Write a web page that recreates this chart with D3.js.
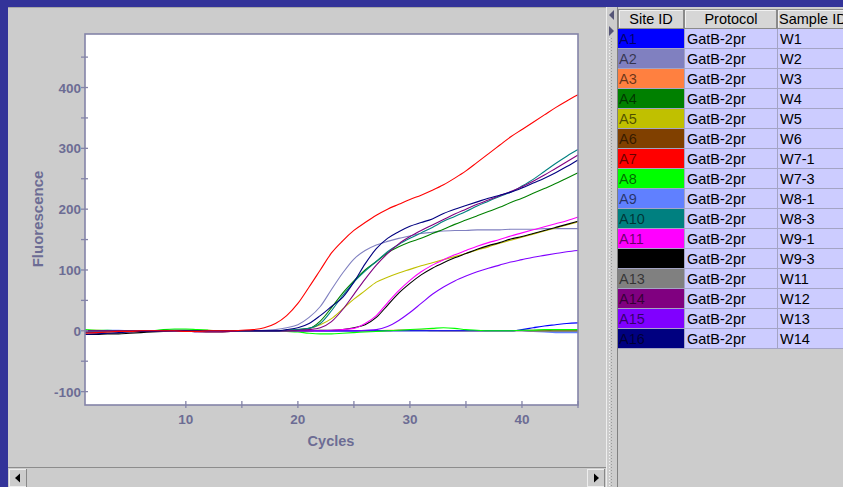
<!DOCTYPE html>
<html>
<head>
<meta charset="utf-8">
<script src="https://cdn.jsdelivr.net/npm/d3@7"></script>
<style>
  body { margin: 0; background: #333399; overflow: hidden; }
  svg { display: block; }
</style>
</head>
<body>
<script>
// cycle numbers (x values)
let cycles = [1,2,3,4,5,6,7,8,9,10,11,12,13,14,15,16,17,18,19,20,21,22,23,24,25,26,27,28,29,30,
  31,32,33,34,35,36,37,38,39,40,41,42,43,44,45];

// table columns
let siteIds = ["A1","A2","A3","A4","A5","A6","A7","A8","A9","A10","A11","A12","A13","A14","A15","A16"];
let protocols = ["GatB-2pr","GatB-2pr","GatB-2pr","GatB-2pr","GatB-2pr","GatB-2pr","GatB-2pr","GatB-2pr",
  "GatB-2pr","GatB-2pr","GatB-2pr","GatB-2pr","GatB-2pr","GatB-2pr","GatB-2pr","GatB-2pr"];
let sampleIds = ["W1","W2","W3","W4","W5","W6","W7-1","W7-3","W8-1","W8-3","W9-1","W9-3","W11","W12","W13","W14"];

// fluorescence per cycle, one array per well
let a1 = [-2,-2,-1,-1,0,0,0,0,0,0,0,0,0,0,-1,-1,-1,-1,-1,0,0,0,0,0,0,0,0,0,0,0,0,0,0,0,0,0,0,0,0,2,5,8,10,12,13];
let a2 = [0,0,0,0,0,0,0,0,-1,-1,0,0,0,0,0,0,1,2,5,10,22,40,68,95,118,132,141,147,152,156,
  160,162,164,165,165,166,166,166,167,167,167,168,168,168,168];
let a3 = [1,1,0,-1,-2,-1,0,0,0,0,1,1,0,0,0,0,0,0,0,0,0,0,0,0,0,0,0,1,1,1,1,1,0,0,0,0,0,0,0,0,0,0,0,0,0];
let a4 = [0,0,0,0,0,0,0,1,1,1,0,0,0,0,0,0,0,0,1,2,4,16,38,62,82,100,114,128,138,146,
  152,160,167,175,182,189,196,203,211,218,226,234,242,251,260];
let a5 = [0,0,0,0,0,0,0,0,0,0,0,0,0,0,0,0,0,0,0,1,4,10,20,36,52,66,80,88,95,101,
  107,112,117,122,127,133,138,144,149,154,159,164,169,174,179];
let a6 = [-3,-3,-2,-1,0,0,0,0,0,-1,-1,-2,-2,-1,0,0,0,0,0,0,0,0,0,0,0,0,0,0,1,1,1,0,0,0,0,0,0,0,0,1,1,1,0,0,0];
let a7 = [-4,-3,-2,-1,-1,0,0,0,0,-1,-1,0,0,0,1,2,5,12,25,45,72,100,128,148,165,178,190,200,208,216,
  223,231,240,251,263,277,291,305,319,331,343,355,367,378,388];
let a8 = [2,1,1,0,0,0,0,2,3,3,2,1,0,0,0,0,0,0,-1,-2,-4,-5,-5,-4,-3,-2,-1,0,1,2,3,4,5,4,2,1,0,0,0,1,1,2,2,2,2];
let a9 = [0,0,1,1,0,0,0,0,1,1,1,0,0,0,0,0,0,0,0,0,0,-1,-1,-1,-1,0,0,0,0,0,0,0,0,0,0,0,0,0,0,0,-1,-2,-3,-3,-3];
let a10 = [0,0,0,0,0,0,0,0,0,0,0,0,0,0,0,0,0,0,1,2,4,12,33,58,80,98,114,130,142,152,
  161,170,180,188,196,205,213,221,228,238,249,262,275,287,298];
let a11 = [0,0,0,0,0,0,0,0,0,0,-1,-1,-1,0,0,0,0,0,0,0,0,0,1,2,4,12,25,46,66,83,
  97,108,117,125,132,139,145,150,156,161,166,171,176,181,187];
let a12 = [-6,-6,-5,-5,-4,-3,-2,-1,0,0,0,0,0,0,0,0,0,0,0,0,0,1,1,2,5,10,22,42,62,78,
  92,103,112,120,127,134,140,145,151,155,160,165,170,175,180];
let a13 = [-1,-1,0,0,0,0,0,0,0,0,0,0,0,0,0,0,0,0,0,0,0,0,0,0,0,0,0,0,0,0,0,0,0,0,0,0,0,0,0,0,-1,-1,-1,-1,-1];
let a14 = [0,0,0,0,0,0,0,0,0,0,-2,-2,-2,-1,0,0,0,0,0,1,2,5,15,35,60,85,108,127,143,155,
  165,174,183,192,200,208,215,222,229,237,246,256,267,278,289];
let a15 = [0,0,0,0,0,0,0,0,0,0,0,0,0,0,0,0,0,0,0,0,0,0,0,0,0,1,2,7,17,30,
  45,60,72,82,90,97,103,108,113,117,121,124,127,130,132];
let a16 = [-6,-5,-4,-3,-2,-1,-1,0,0,0,0,0,0,0,0,0,0,0,2,5,12,25,40,55,80,110,135,152,163,172,
  178,184,193,200,206,212,218,223,228,235,243,251,260,270,281];

let wells = [a1,a2,a3,a4,a5,a6,a7,a8,a9,a10,a11,a12,a13,a14,a15,a16];

// well colours
let siteColors = ["#0000ff","#8080c0","#ff8040","#008000","#c0c000","#804000","#ff0000","#00ff00",
  "#6080ff","#008080","#ff00ff","#000000","#808080","#800080","#8000ff","#000080"];

let yTicks = [-100,-50,0,50,100,150,200,250,300,350,400,450];
let xTicks = [10,15,20,25,30,35,40,45];

window.onload = function() {
  let svg = d3.select("body").append("svg")
    .attr("width", 843)
    .attr("height", 487);

  drawFrame(svg);
  drawChart(svg);
  drawTable(svg);
};

function drawFrame(svg) {
  // left (chart) panel
  svg.append("rect").attr("x", 8).attr("y", 7).attr("width", 598).attr("height", 480).attr("fill", "#cccccc");
  svg.append("line").attr("x1", 8).attr("x2", 606).attr("y1", 7.5).attr("y2", 7.5).attr("stroke", "#a8a8a8");

  // horizontal scrollbar
  svg.append("rect").attr("x", 8).attr("y", 467).attr("width", 598).attr("height", 20).attr("fill", "#cccccc");
  svg.append("line").attr("x1", 8).attr("x2", 606).attr("y1", 467.5).attr("y2", 467.5).attr("stroke", "#8c8c8c");
  [[9, 27], [587, 605]].forEach(function(b) {
    svg.append("rect").attr("x", b[0] + 0.5).attr("y", 469.5).attr("width", b[1] - b[0] - 1).attr("height", 17)
      .attr("fill", "#cccccc").attr("stroke", "#eeeeee");
    svg.append("line").attr("x1", b[1] - 0.5).attr("x2", b[1] - 0.5).attr("y1", 469).attr("y2", 487).attr("stroke", "#888");
  });
  svg.append("path").attr("d", "M15,478 L20,473.5 L20,482.5 Z").attr("fill", "#000");
  svg.append("path").attr("d", "M599,478 L594,473.5 L594,482.5 Z").attr("fill", "#000");

  // splitter
  svg.append("rect").attr("x", 606).attr("y", 7).attr("width", 11).attr("height", 480).attr("fill", "#cccccc");
  svg.append("line").attr("x1", 606.5).attr("x2", 606.5).attr("y1", 7).attr("y2", 487).attr("stroke", "#eeeeee");
  svg.append("line").attr("x1", 611.5).attr("x2", 611.5).attr("y1", 38).attr("y2", 487)
    .attr("stroke", "#9a9a9a").attr("stroke-dasharray", "1,2");
  svg.append("line").attr("x1", 609.5).attr("x2", 609.5).attr("y1", 38).attr("y2", 487)
    .attr("stroke", "#f4f4f4").attr("stroke-dasharray", "1,2");
  svg.append("path").attr("d", "M609,15 L614,10 L614,20 Z").attr("fill", "#555577");
  svg.append("path").attr("d", "M614,31 L609,26 L609,36 Z").attr("fill", "#555577");

  // right (table) panel
  svg.append("rect").attr("x", 617).attr("y", 7).attr("width", 226).attr("height", 480).attr("fill", "#cccccc");
  svg.append("line").attr("x1", 617.5).attr("x2", 617.5).attr("y1", 7).attr("y2", 487).attr("stroke", "#808080");
}

function drawChart(svg) {
  let xScale = d3.scaleLinear().domain([1, 45]).range([85, 578]);
  let yScale = d3.scaleLinear().domain([-122, 488]).range([405, 34]);

  let axisColor = "#8484a8";
  let labelColor = "#6c6c94";

  // plot background
  svg.append("rect")
    .attr("x", 85).attr("y", 34).attr("width", 493).attr("height", 371)
    .attr("fill", "#ffffff");

  // curves
  let line = d3.line()
    .x((d, i) => xScale(cycles[i]))
    .y((d) => yScale(d))
    .curve(d3.curveMonotoneX);

  let order = [2, 5, 8, 12, 0, 7, 1, 4, 11, 10, 14, 3, 9, 13, 15, 6];
  svg.append("g")
    .selectAll("path")
    .data(order)
    .enter()
    .append("path")
    .attr("d", (i) => line(wells[i]))
    .attr("fill", "none")
    .attr("stroke", (i) => siteColors[i])
    .attr("stroke-width", 1.1);

  // frame
  svg.append("rect")
    .attr("x", 85).attr("y", 34).attr("width", 493).attr("height", 371)
    .attr("fill", "none").attr("stroke", axisColor).attr("stroke-width", 1.6);

  // y ticks
  let yAxis = svg.append("g");
  yAxis.selectAll("line")
    .data(yTicks)
    .enter()
    .append("line")
    .attr("x1", 81).attr("x2", 88)
    .attr("y1", (d) => yScale(d)).attr("y2", (d) => yScale(d))
    .attr("stroke", axisColor).attr("stroke-width", 1.3);
  yAxis.selectAll("text")
    .data(yTicks.filter((d) => d % 100 === 0))
    .enter()
    .append("text")
    .attr("x", 81)
    .attr("y", (d) => yScale(d) + 5)
    .attr("text-anchor", "end")
    .attr("font-family", "Liberation Sans, Arial, sans-serif")
    .attr("font-weight", "bold")
    .attr("font-size", 13.5)
    .attr("fill", labelColor)
    .text((d) => d);

  // x ticks
  let xAxis = svg.append("g");
  xAxis.selectAll("line")
    .data(xTicks)
    .enter()
    .append("line")
    .attr("x1", (d) => xScale(d)).attr("x2", (d) => xScale(d))
    .attr("y1", 401).attr("y2", 408)
    .attr("stroke", axisColor).attr("stroke-width", 1.3);
  xAxis.selectAll("text")
    .data(xTicks.filter((d) => d % 10 === 0))
    .enter()
    .append("text")
    .attr("x", (d) => xScale(d))
    .attr("y", 424)
    .attr("text-anchor", "middle")
    .attr("font-family", "Liberation Sans, Arial, sans-serif")
    .attr("font-weight", "bold")
    .attr("font-size", 13.5)
    .attr("fill", labelColor)
    .text((d) => d);

  // axis titles
  svg.append("text")
    .attr("x", 331).attr("y", 446)
    .attr("text-anchor", "middle")
    .attr("font-family", "Liberation Sans, Arial, sans-serif")
    .attr("font-weight", "bold")
    .attr("font-size", 14.5)
    .attr("fill", labelColor)
    .text("Cycles");
  svg.append("text")
    .attr("transform", "translate(43, 219) rotate(-90)")
    .attr("text-anchor", "middle")
    .attr("font-family", "Liberation Sans, Arial, sans-serif")
    .attr("font-weight", "bold")
    .attr("font-size", 15)
    .attr("fill", labelColor)
    .text("Fluorescence");
}

function drawTable(svg) {
  let cols = [{ x: 618, w: 66 }, { x: 684, w: 93 }, { x: 777, w: 90 }];
  let font = "Liberation Sans, Arial, sans-serif";
  let fs = 14.5;

  let table = svg.append("g");

  // header
  cols.forEach(function(c) {
    table.append("rect").attr("x", c.x + 0.5).attr("y", 9.5).attr("width", c.w - 1).attr("height", 19)
      .attr("fill", "#d6d6d6").attr("stroke", "#8a8a8a");
    table.append("line").attr("x1", c.x + 1.5).attr("x2", c.x + c.w - 1.5).attr("y1", 10.5).attr("y2", 10.5)
      .attr("stroke", "#f2f2f2");
    table.append("line").attr("x1", c.x + 1.5).attr("x2", c.x + 1.5).attr("y1", 10.5).attr("y2", 27.5)
      .attr("stroke", "#f2f2f2");
  });
  table.append("text").attr("x", 651).attr("y", 24).attr("text-anchor", "middle")
    .attr("font-family", font).attr("font-size", fs).attr("fill", "#000").text("Site ID");
  table.append("text").attr("x", 731).attr("y", 24).attr("text-anchor", "middle")
    .attr("font-family", font).attr("font-size", fs).attr("fill", "#000").text("Protocol");
  table.append("text").attr("x", 779).attr("y", 24).attr("text-anchor", "start")
    .attr("font-family", font).attr("font-size", fs).attr("fill", "#000").text("Sample ID");

  let rows = table.selectAll(".row")
    .data(siteIds)
    .enter()
    .append("g")
    .attr("class", "row")
    .attr("transform", (d, i) => "translate(0," + (29 + i * 20) + ")");

  rows.append("rect").attr("x", 618).attr("y", 0).attr("width", 66).attr("height", 20)
    .attr("fill", (d, i) => siteColors[i]);
  rows.append("rect").attr("x", 684).attr("y", 0).attr("width", 159).attr("height", 20)
    .attr("fill", "#ccccff");
  rows.append("line").attr("x1", 618).attr("x2", 843).attr("y1", 19.5).attr("y2", 19.5)
    .attr("stroke", "#a4a4c4");
  rows.append("line").attr("x1", 684.5).attr("x2", 684.5).attr("y1", 0).attr("y2", 20).attr("stroke", "#a4a4c4");
  rows.append("line").attr("x1", 777.5).attr("x2", 777.5).attr("y1", 0).attr("y2", 20).attr("stroke", "#a4a4c4");

  rows.append("text").attr("x", 619).attr("y", 15)
    .attr("font-family", font).attr("font-size", fs).attr("fill", "#000").attr("fill-opacity", 0.6)
    .text((d) => d);
  rows.append("text").attr("x", 687).attr("y", 15)
    .attr("font-family", font).attr("font-size", fs).attr("fill", "#000")
    .text((d, i) => protocols[i]);
  rows.append("text").attr("x", 780).attr("y", 15)
    .attr("font-family", font).attr("font-size", fs).attr("fill", "#000")
    .text((d, i) => sampleIds[i]);
}
</script>
</body>
</html>
